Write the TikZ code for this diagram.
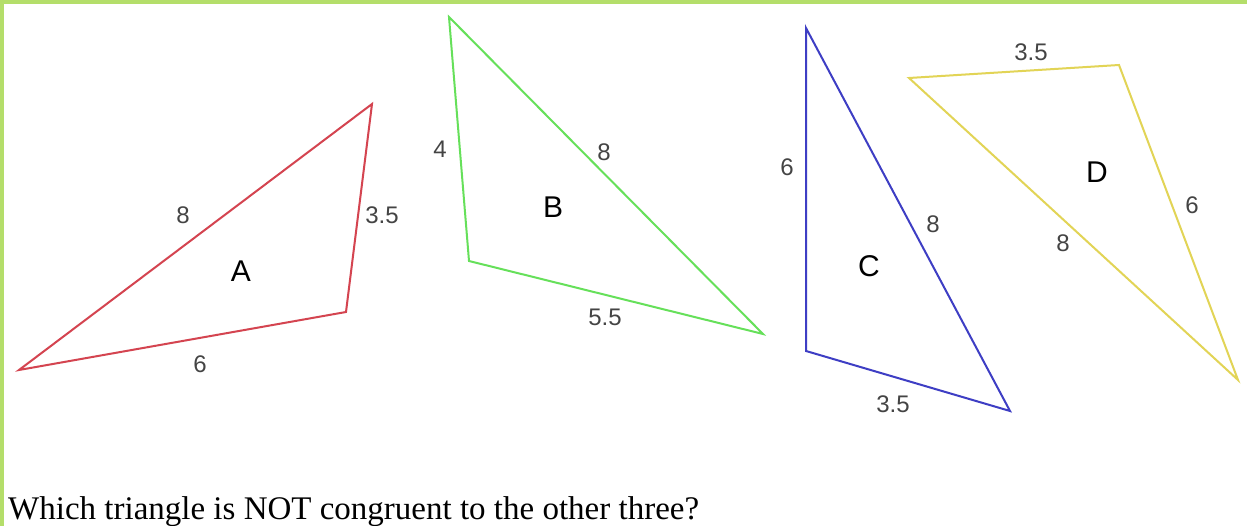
\documentclass[tikz,border=0pt]{standalone}
\usepackage{fontspec}
\setmainfont{Liberation Serif}
\newfontfamily\labfont{Liberation Sans}
\definecolor{frame}{HTML}{B4DE6A}
\definecolor{tred}{HTML}{D44450}
\definecolor{tgreen}{HTML}{66E05A}
\definecolor{tblue}{HTML}{3E3EC4}
\definecolor{tyellow}{HTML}{E2D456}
\definecolor{labgray}{HTML}{444444}
\begin{document}
\begin{tikzpicture}[x=1pt,y=-1pt,
  tri/.style={line width=2pt,line join=miter},
  side/.style={font=\labfont\fontsize{24}{24}\selectfont,text=labgray,inner sep=0pt},
  trilabel/.style={font=\labfont\fontsize{30}{30}\selectfont,text=black,inner sep=0pt}]
\useasboundingbox (0,0) rectangle (1247,526);
\fill[white] (0,0) rectangle (1247,526);
\fill[frame] (0,0) rectangle (1247,4);
\fill[frame] (0,0) rectangle (4,526);
% A
\coordinate (a1) at (19,370); \coordinate (a2) at (372,104); \coordinate (a3) at (346,312);
\draw[tri,tred] (a1) -- (a2) -- (a3) -- cycle;
\node[side] (a8) at (183,215) {8};
\node[side] (a35) at (382,215) {3.5};
\node[side] (a6) at (200,364) {6};
\node[trilabel] (aA) at (241,271) {A};
% B
\coordinate (b1) at (449,17); \coordinate (b2) at (469,261); \coordinate (b3) at (763,334);
\draw[tri,tgreen] (b1) -- (b2) -- (b3) -- cycle;
\node[side] (b4) at (440,149) {4};
\node[side] (b8) at (604,152) {8};
\node[side] (b55) at (605,317) {5.5};
\node[trilabel] (bB) at (553,207) {B};
% C
\coordinate (c1) at (806,28); \coordinate (c2) at (806,351); \coordinate (c3) at (1010,411);
\draw[tri,tblue] (c1) -- (c2) -- (c3) -- cycle;
\node[side] (c6) at (787,167) {6};
\node[side] (c8) at (933,224) {8};
\node[side] (c35) at (893,404) {3.5};
\node[trilabel] (cC) at (869,266) {C};
% D
\coordinate (d1) at (909,78); \coordinate (d2) at (1119,65); \coordinate (d3) at (1238,380);
\draw[tri,tyellow] (d1) -- (d2) -- (d3) -- cycle;
\node[side] (d35) at (1031,52) {3.5};
\node[side] (d6) at (1192,205) {6};
\node[side] (d8) at (1063,243) {8};
\node[trilabel] (dD) at (1097,172) {D};
% question
\node[anchor=base west,inner sep=0pt,font=\fontsize{33}{33}\selectfont] (q) at (8,519) {Which triangle is NOT congruent to the other three?};
\end{tikzpicture}
\end{document}
